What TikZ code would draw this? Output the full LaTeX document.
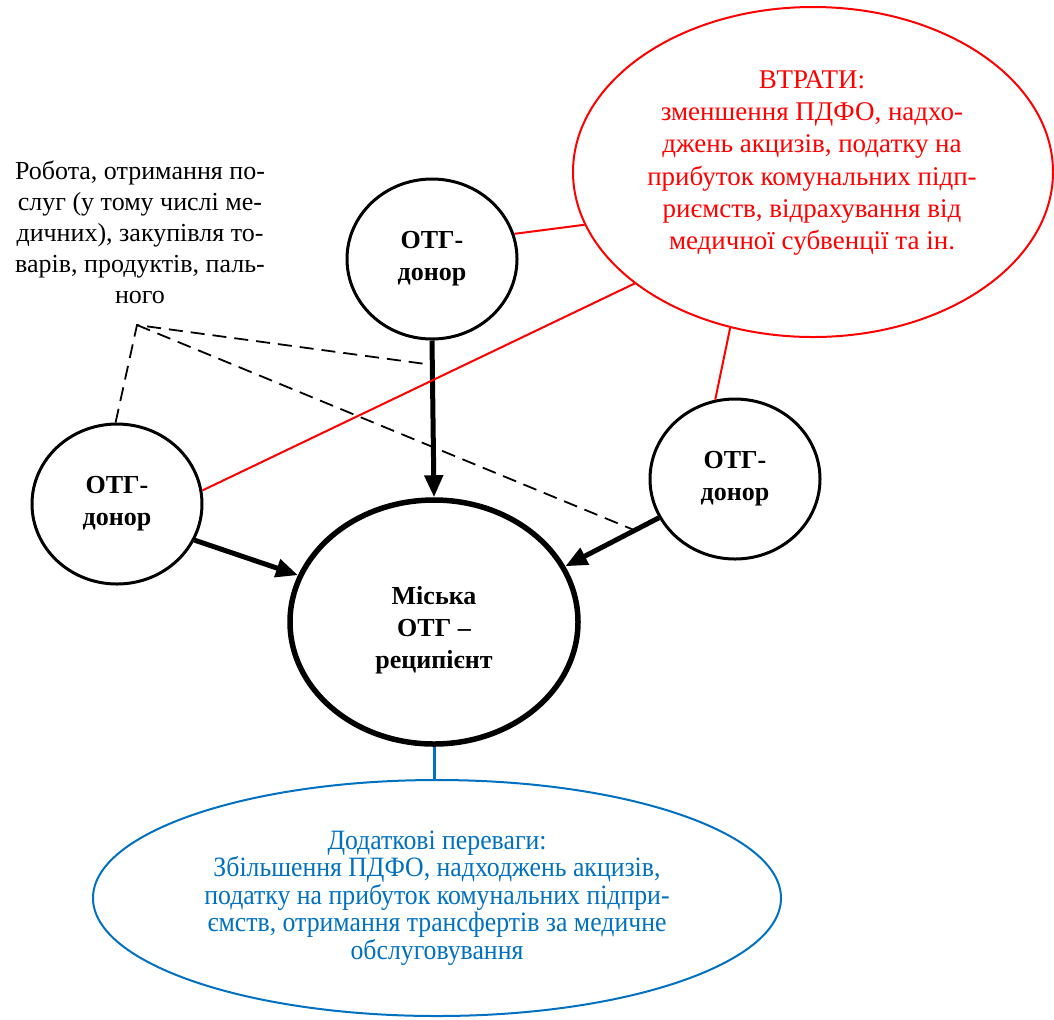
\documentclass[tikz,border=0pt]{standalone}
\usepackage{fontspec}
\setmainfont{Liberation Serif}
\newfontfamily\plainserif{Liberation Serif}
\newfontfamily\narrowserif{Liberation Serif}[FakeStretch=0.92]
\usetikzlibrary{positioning, shapes.geometric, arrows.meta}
\definecolor{lossred}{RGB}{255,0,0}
\definecolor{gainblue}{RGB}{0,112,192}
\tikzset{
  donor/.style={draw, ellipse, line width=1.5pt, minimum width=85pt, minimum height=80pt,
    inner sep=0pt, align=center, font=\plainserif\fontsize{13}{16}\selectfont\bfseries},
  recip/.style={donor, line width=2.75pt, minimum width=144pt, minimum height=122pt},
  loss/.style={draw=lossred, ellipse, line width=1pt, minimum width=240pt,
    minimum height=165pt, inner sep=0pt},
  losstext/.style={text=lossred, align=center, font=\plainserif\fontsize{13.5}{16.1}\selectfont},
  gain/.style={draw=gainblue, text=gainblue, ellipse, line width=1pt, minimum width=344pt,
    minimum height=118pt, inner sep=0pt, align=center, font=\narrowserif\fontsize{14}{13.75}\selectfont},
  flow/.style={line width=2.5pt, -{Triangle[length=11pt,width=9pt]}},
  link/.style={draw=lossred, line width=1pt},
  trade/.style={dash pattern=on 7pt off 4pt, line width=0.9pt}
}

\begin{document}
\begin{tikzpicture}[x=0.5pt, y=-0.5pt]
  \useasboundingbox (0,0) rectangle (1054,1019);

  % communities
  \node[donor] (topd) at (432,259) {ОТГ-\\донор};
  \node[donor] (leftd) at (117,504) {ОТГ-\\донор};
  \node[donor] (rightd) at (735,479) {ОТГ-\\донор};
  \node[recip] (rec) at (434,622) {};
  \node[font=\plainserif\fontsize{13}{16}\selectfont\bfseries, align=center] (rectext) at (434,630)
    {Міська\\ОТГ –\\реципієнт};

  % losses and gains
  \node[loss] (loss) at (813,172) {};
  \node[losstext] (losstxt) at (812,163) {ВТРАТИ:\\зменшення ПДФО, надхо-\\джень акцизів, податку на\\прибуток комунальних підп-\\риємств, відрахування від\\медичної субвенції та ін.};
  \node[gain] (gain) at (437,898) {Додаткові переваги:\\Збільшення ПДФО, надходжень акцизів,\\податку на прибуток комунальних підпри-\\ємств, отримання трансфертів за медичне\\обслуговування};

  \node[align=center, font=\plainserif\fontsize{13}{15.5}\selectfont] (work) at (140,232)
    {Робота, отримання по-\\слуг (у тому числі ме-\\дичних), закупівля то-\\варів, продуктів, паль-\\ного};

  \coordinate (apex) at (137,325);
  \coordinate (onflow) at (433,365);
  \coordinate (onright) at (634,530);

  \draw[flow] (topd.-90) -- (rec.90);
  \draw[flow] (leftd.-25) -- (rec.161);
  \draw[flow] (rightd.207) -- (rec.23);

  \draw[link] (topd.17) -- (loss.193);
  \draw[link] (leftd.9) -- (loss.212);
  \draw[link] (rightd.104) -- (loss.242);

  \draw[draw=gainblue, line width=1.5pt] (rec.-90) -- (rec.-90 |- gain.north);

  \draw[trade] (leftd.91) -- (apex) -- (onflow);
  \draw[trade] (apex) -- (onright);
\end{tikzpicture}
\end{document}
